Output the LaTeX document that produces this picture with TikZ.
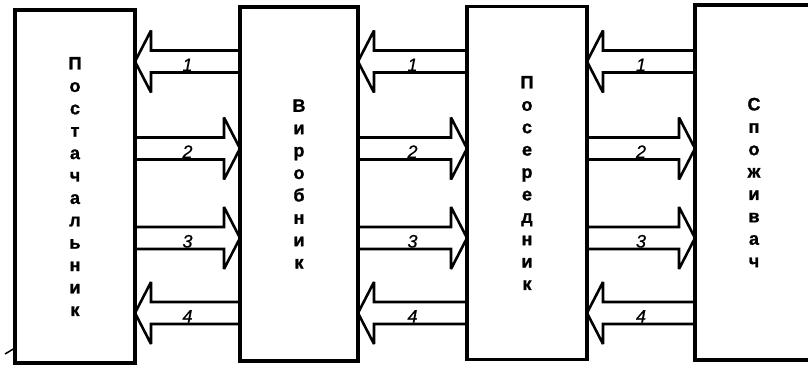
\documentclass[tikz,border=0pt]{standalone}
\usepackage{fontspec}
\setmainfont{Liberation Sans}
\newfontfamily\boxfont{Liberation Sans Bold}[FakeBold=1.2]
\newfontfamily\labfont{Liberation Sans Italic}[FakeBold=0.6]
\usetikzlibrary{calc}
\tikzset{
  box/.style={draw, line width=3.2pt, outer sep=0pt, inner sep=0pt, align=center,
    font=\fontsize{18}{22.4}\selectfont\boxfont},
  arr/.style={draw, line width=2.6pt, line join=miter, miter limit=4},
  lab/.style={font=\fontsize{18}{18}\selectfont\labfont, anchor=base, inner sep=0pt},
}
\newcommand\AHLen{16}
\newcommand\AShalf{11}
\newcommand\AHhalf{31}
% leftward block arrow: #1 left node, #2 right node, #3 y-level coordinate, #4 label
\newcommand\arrLeft[4]{%
  \draw[arr] ($(#2.west |- #3)+(0,-\AShalf)$) -- ($(#1.east |- #3)+(\AHLen,-\AShalf)$)
    -- ($(#1.east |- #3)+(\AHLen,-\AHhalf)$) -- (#1.east |- #3)
    -- ($(#1.east |- #3)+(\AHLen,\AHhalf)$) -- ($(#1.east |- #3)+(\AHLen,\AShalf)$)
    -- ($(#2.west |- #3)+(0,\AShalf)$);
  \node[lab] (l#1#2#4) at ($($(#1.east |- #3)!0.5!(#2.west |- #3)$)+(0,9.5)$) {#4};
}
% rightward block arrow
\newcommand\arrRight[4]{%
  \draw[arr] ($(#1.east |- #3)+(0,-\AShalf)$) -- ($(#2.west |- #3)+(-\AHLen,-\AShalf)$)
    -- ($(#2.west |- #3)+(-\AHLen,-\AHhalf)$) -- (#2.west |- #3)
    -- ($(#2.west |- #3)+(-\AHLen,\AHhalf)$) -- ($(#2.west |- #3)+(-\AHLen,\AShalf)$)
    -- ($(#1.east |- #3)+(0,\AShalf)$);
  \node[lab] (l#1#2#4) at ($($(#1.east |- #3)!0.5!(#2.west |- #3)$)+(0,9.5)$) {#4};
}
\begin{document}
\begin{tikzpicture}[x=1pt,y=-1pt]
\path[use as bounding box, clip] (0,0) rectangle (808,369);
\fill[white] (0,0) rectangle (808,369);

\node[box, minimum width=120pt, minimum height=353pt] (A) at (75,186.5)
  {П\\о\\с\\т\\а\\ч\\а\\л\\ь\\н\\и\\к};
\node[box, minimum width=118pt, minimum height=354pt] (B) at (299,184)
  {В\\и\\р\\о\\б\\н\\и\\к};
\node[box, minimum width=120pt, minimum height=353pt] (C) at (527,183)
  {П\\о\\с\\е\\р\\е\\д\\н\\и\\к};
\node[box, minimum width=118pt, minimum height=355pt] (D) at (754,182.5)
  {С\\п\\о\\ж\\и\\в\\а\\ч};

\coordinate (y1) at (0,61.5);
\coordinate (y2) at (0,148.5);
\coordinate (y3) at (0,238);
\coordinate (y4) at (0,313);

\arrLeft{A}{B}{y1}{1}
\arrRight{A}{B}{y2}{2}
\arrRight{A}{B}{y3}{3}
\arrLeft{A}{B}{y4}{4}

\arrLeft{B}{C}{y1}{1}
\arrRight{B}{C}{y2}{2}
\arrRight{B}{C}{y3}{3}
\arrLeft{B}{C}{y4}{4}

\arrLeft{C}{D}{y1}{1}
\arrRight{C}{D}{y2}{2}
\arrRight{C}{D}{y3}{3}
\arrLeft{C}{D}{y4}{4}

\coordinate (mk) at (5,354);
\draw[line width=1.5pt] (mk) -- (A.west |- 0,348);
\end{tikzpicture}
\end{document}
